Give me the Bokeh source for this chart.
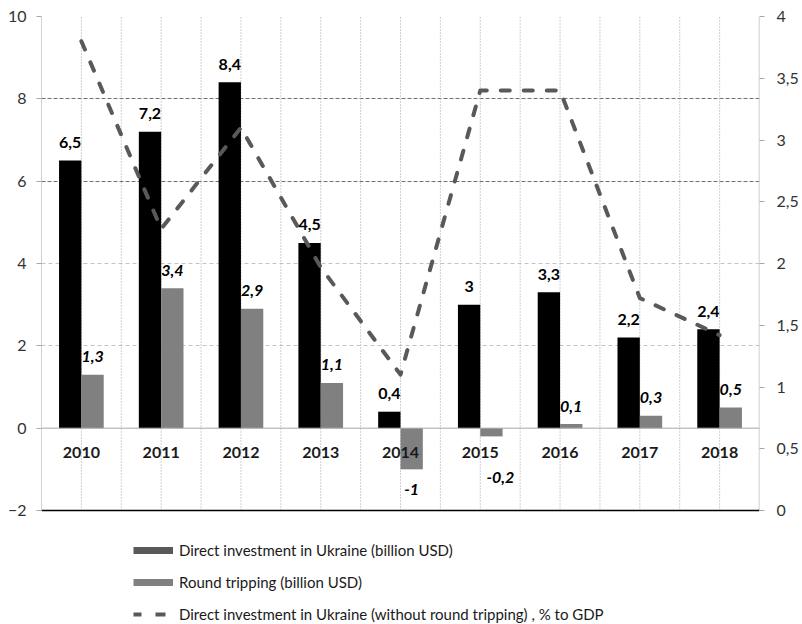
from bokeh.plotting import figure
from bokeh.models import (Range1d, LinearAxis, FixedTicker, Grid, Span, Legend,
                          LegendItem, ColumnDataSource)
from bokeh.core.properties import value
from bokeh.embed import file_html
from bokeh.resources import INLINE

# ---- data ----
years = ["2010", "2011", "2012", "2013", "2014", "2015", "2016", "2017", "2018"]
direct_investment = [6.5, 7.2, 8.4, 4.5, 0.4, 3, 3.3, 2.2, 2.4]
round_tripping = [1.3, 3.4, 2.9, 1.1, -1, -0.2, 0.1, 0.3, 0.5]
pct_to_gdp = [3.8, 2.28, 3.1, 1.97, 1.1, 3.4, 3.4, 1.72, 1.42]
left_ticks = [-2, 0, 2, 4, 6, 8, 10]
right_ticks = [0, 0.5, 1, 1.5, 2, 2.5, 3, 3.5, 4]
legend_labels = [
    "Direct investment in Ukraine (billion USD)",
    "Round tripping (billion USD)",
    "Direct investment in Ukraine (without round tripping) , % to GDP",
]

FONT = "Lato"
NAN = float("nan")


def fmt(v):
    return f"{v:g}".replace(".", ",")


n = len(years)
xc = [i + 0.5 for i in range(n)]
bw = 0.28
x_black = [x - bw / 2 for x in xc]
x_gray = [x + bw / 2 for x in xc]

# layout: axis area spans 494 px vertically; 114 px below it hold the legend
W, H = 802, 624
TOP, AXIS_PX, LEFT, RIGHT = 16, 494, 41, 43
below_px = H - TOP - AXIS_PX
lmin, lmax = left_ticks[0], left_ticks[-1]
rmin, rmax = right_ticks[0], right_ticks[-1]
l_start = lmin - below_px * (lmax - lmin) / AXIS_PX
r_start = rmin - below_px * (rmax - rmin) / AXIS_PX

p = figure(width=W, height=H, x_range=Range1d(0, n), y_range=Range1d(l_start, lmax),
           output_backend="svg", toolbar_location=None,
           x_axis_location=None, y_axis_location=None,
           min_border_left=LEFT, min_border_right=RIGHT, min_border_top=TOP,
           min_border_bottom=0)
p.grid.visible = False
p.outline_line_color = None
p.background_fill_color = "white"
p.border_fill_color = "white"
p.extra_y_ranges = {"pct": Range1d(r_start, rmax)}

# axes (lines drawn separately so they stop at the axis minimum)
ya = LinearAxis(ticker=FixedTicker(ticks=left_ticks),
                axis_line_color=None, major_tick_line_color="#a6a6a6",
                major_tick_out=5, major_tick_in=0, minor_tick_line_color=None,
                major_label_standoff=10, major_label_text_font=FONT,
                major_label_text_font_size="16px", major_label_text_color="#333333")
p.add_layout(ya, "left")

ya2 = LinearAxis(y_range_name="pct", ticker=FixedTicker(ticks=right_ticks),
                 axis_line_color=None, major_tick_line_color="#a6a6a6",
                 major_tick_out=5, major_tick_in=0, minor_tick_line_color=None,
                 major_label_standoff=12, major_label_text_font=FONT,
                 major_label_text_font_size="16px", major_label_text_color="#333333",
                 major_label_overrides={t: fmt(t) for t in right_ticks})
p.add_layout(ya2, "right")

# grids
p.add_layout(Grid(dimension=1, ticker=FixedTicker(ticks=[6, 8, 10]),
                  grid_line_color="#707070", grid_line_dash="4 2"))
p.add_layout(Grid(dimension=1, ticker=FixedTicker(ticks=[2, 4]),
                  grid_line_color="#c4c4c4", grid_line_dash="4 3"))
vx = [i * 0.5 for i in range(1, 2 * n)]
p.segment(x0=vx, y0=[lmin] * len(vx), x1=vx, y1=[lmax] * len(vx),
          line_color="#a0a0a0", line_width=1, line_dash="1 2")
p.add_layout(Span(location=0, dimension="width", line_color="#a6a6a6", line_width=1))
# axis lines
p.segment(x0=[0], y0=[lmin], x1=[0], y1=[lmax], line_color="#a6a6a6", line_width=1)
p.segment(x0=[n], y0=[lmin], x1=[n], y1=[lmax], line_color="#bfbfbf", line_width=1.5)
p.segment(x0=[0], y0=[lmin], x1=[n], y1=[lmin], line_color="#000000", line_width=1.5)

# bars
p.vbar(x=x_black, top=direct_investment, width=bw, fill_color="#000000", line_color=None)
p.vbar(x=x_gray, top=round_tripping, width=bw, fill_color="#808080", line_color=None)

# line on right axis
p.line(xc, pct_to_gdp, y_range_name="pct", line_color="#595959", line_width=4,
       line_dash="9 14", line_cap="round", line_join="round")

# bar labels
p.text(x=x_black, y=direct_investment, text=[fmt(v) for v in direct_investment],
       y_offset=-18, text_align="center", text_baseline="middle",
       text_font=value(FONT), text_font_style="bold", text_font_size="16px",
       text_color="#000000")

gx_off, gy_off = [], []
for i, v in enumerate(round_tripping):
    if v >= 0:
        gx_off.append(0); gy_off.append(-18)
    elif v > -0.5:
        gx_off.append(9); gy_off.append(41)
    else:
        gx_off.append(0); gy_off.append(20)
gsrc = ColumnDataSource(dict(x=x_gray, y=round_tripping,
                             t=[fmt(v) for v in round_tripping],
                             xo=gx_off, yo=gy_off))
p.text(x="x", y="y", text="t", x_offset="xo", y_offset="yo", source=gsrc,
       text_align="center", text_baseline="middle",
       text_font=value(FONT), text_font_style="bold italic", text_font_size="16px",
       text_color="#000000")

# category labels
p.text(x=xc, y=[0] * n, text=years, y_offset=24, text_align="center",
       text_baseline="middle", text_font=value(FONT), text_font_style="bold",
       text_font_size="16px", text_color="#1a1a1a")

# legend swatch carriers (NaN data: they draw nothing in the plot)
l1 = p.line(x=[NAN, NAN], y=[NAN, NAN], line_color="#595959", line_width=7, line_cap="butt")
l2 = p.line(x=[NAN, NAN], y=[NAN, NAN], line_color="#808080", line_width=7, line_cap="butt")
l3 = p.line(x=[NAN, NAN], y=[NAN, NAN], line_color="#595959", line_width=4, line_cap="butt",
            line_dash="8 14 10 100")
legend = Legend(items=[LegendItem(label=legend_labels[0], renderers=[l1]),
                       LegendItem(label=legend_labels[1], renderers=[l2]),
                       LegendItem(label=legend_labels[2], renderers=[l3])],
                location=(92, 0), orientation="vertical",
                glyph_width=40, glyph_height=20, label_height=20, spacing=12,
                padding=0, margin=0, label_standoff=6,
                border_line_color=None, background_fill_alpha=0,
                label_text_font=FONT, label_text_font_size="15px",
                label_text_color="#1a1a1a")
p.add_layout(legend)

open("out.html", "w").write(file_html(p, INLINE))
